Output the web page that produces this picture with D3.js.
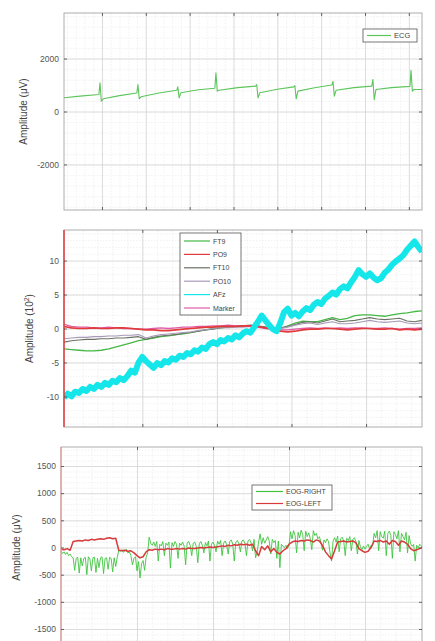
<!DOCTYPE html>
<html>
<head>
<meta charset="utf-8">
<script src="https://cdn.jsdelivr.net/npm/d3@7"></script>
<style>
  body { margin: 0; background: #fff; }
  svg { display: block; }
  text { font-family: "Liberation Sans", Arial, sans-serif; }
</style>
</head>
<body>
<svg id="chart" width="435" height="641"></svg>
<script>
// ---------- Panel 1: ECG (µV) ----------
const ecgTime = [0.134, 0.5, 0.93, 0.955, 0.985, 1.03, 1.4, 1.795, 1.82, 1.85, 1.89, 2.3,
  2.705, 2.73, 2.76, 2.80, 3.2, 3.575, 3.60, 3.63, 3.67, 4.1, 4.505, 4.53, 4.56, 4.60, 5.0,
  5.375, 5.40, 5.43, 5.47, 5.85, 6.245, 6.27, 6.30, 6.34, 6.75, 7.155, 7.18, 7.21, 7.25, 7.6,
  8.025, 8.05, 8.08, 8.12, 8.3];
const ecgValue = [520, 580, 640, 1080, 390, 480, 600, 700, 1020, 480, 555, 700,
  800, 930, 515, 705, 820, 880, 1460, 770, 800, 900, 960, 1020, 515, 705, 840,
  930, 980, 480, 770, 900, 1000, 1140, 580, 800, 900, 960, 1210, 450, 830, 900,
  950, 1560, 770, 830, 830];
const ecgTicksY = [-2000, 0, 2000];
const ecgTicksX = [1, 2, 3, 4, 5, 6, 7, 8];

// ---------- Panel 2: EEG channels (1 s samples, AFz at 0.5 s) ----------
const eegNames = ["FT9", "PO9", "FT10", "PO10", "AFz", "Marker"];
const eegColors = ["#45b845", "#e23a3a", "#6b7264", "#a79ab8", "#14e6ea", "#e35aa8"];
const ft9 = [-3.0, -3.1, -3.2, -3.3, -3.3, -3.2, -3.0, -2.7, -2.4, -2.1, -1.8, -1.6, -1.4, -1.2, -1.1,
  -0.9, -0.8, -0.6, -0.4, -0.2, 0.0, 0.1, 0.2, 0.3, 0.3, 0.4, 0.3, 0.2, 0.0, 0.0, 0.4, 0.8, 1.1, 1.0,
  1.0, 1.3, 1.6, 1.3, 1.5, 1.9, 2.0, 2.0, 1.9, 1.8, 2.0, 2.2, 2.3, 2.5, 2.6];
const po9 = [0.3, 0.1, 0.0, 0.0, 0.1, 0.0, 0.0, 0.1, 0.1, 0.0, -0.1, -0.2, -0.2, -0.3, -0.3, -0.2,
  -0.1, 0.0, 0.1, 0.2, 0.2, 0.3, 0.3, 0.3, 0.4, 0.4, 0.3, 0.1, -0.1, -0.4, -0.5, -0.4, -0.2, -0.1,
  -0.1, 0.0, 0.0, -0.1, -0.2, -0.1, 0.0, 0.0, -0.1, -0.1, 0.0, -0.2, -0.1, -0.2, -0.1];
const ft10 = [-2.0, -1.8, -1.7, -1.6, -1.6, -1.5, -1.5, -1.4, -1.4, -1.3, -1.2, -1.6, -1.3, -1.1, -1.0,
  -0.9, -0.7, -0.6, -0.4, -0.2, -0.1, 0.1, 0.2, 0.3, 0.4, 0.5, 0.4, 0.2, 0.1, 0.1, 0.3, 0.6, 0.9, 1.0,
  0.8, 1.1, 1.4, 1.0, 1.1, 1.2, 1.4, 1.6, 1.4, 1.3, 1.4, 1.5, 1.1, 1.0, 1.2];
const po10 = [-1.5, -1.4, -1.3, -1.3, -1.2, -1.2, -1.1, -1.1, -1.0, -1.0, -0.9, -1.4, -1.1, -0.9, -0.8,
  -0.7, -0.6, -0.5, -0.3, -0.2, 0.0, 0.1, 0.1, 0.2, 0.2, 0.3, 0.2, 0.1, 0.0, 0.0, 0.2, 0.5, 0.7, 0.8,
  0.6, 0.8, 1.0, 0.7, 0.7, 0.8, 1.0, 1.2, 1.0, 0.9, 1.0, 1.1, 0.8, 0.7, 0.8];
const afz = [-10.2, -9.6, -10.0, -9.3, -9.5, -8.9, -9.2, -8.6, -8.9, -8.3, -8.6, -8.0, -8.3, -7.7, -7.9,
  -7.3, -7.6, -7.0, -6.2, -6.5, -5.0, -4.2, -4.8, -5.3, -5.8, -5.1, -5.4, -4.8, -5.0, -4.4, -4.6, -4.0,
  -4.2, -3.6, -3.8, -3.2, -3.4, -2.8, -3.0, -2.3, -2.0, -2.3, -1.7, -1.9, -1.4, -1.6, -1.0, -1.3, -0.7,
  -0.4, -0.6, 0.2, 1.0, 1.9, 1.2, 0.5, -0.1, -0.4, 0.8, 2.4, 2.9, 1.9, 2.3, 1.8, 2.5, 3.0, 2.7, 3.5,
  3.9, 3.6, 4.4, 4.8, 5.3, 5.0, 5.8, 6.2, 5.9, 6.8, 7.6, 8.6, 8.0, 7.6, 8.1, 7.5, 7.1, 7.4, 8.2, 8.7,
  9.4, 9.9, 10.3, 10.8, 11.6, 12.2, 12.8, 12.0, 11.3];
const marker = [0.6, 0.3, 0.2, 0.2, 0.1, 0.1, 0.2, 0.1, 0.0, 0.0, -0.1, -0.1, 0.0, 0.1, 0.0, 0.1, 0.2,
  0.2, 0.3, 0.3, 0.4, 0.4, 0.5, 0.4, 0.4, 0.3, 0.2, 0.0, -0.1, -0.2, -0.2, -0.1, 0.0, 0.1, 0.0, 0.1,
  0.0, 0.1, 0.0, 0.1, 0.1, 0.0, 0.0, 0.1, 0.0, -0.1, 0.0, 0.0, 0.1];
const eegTicksY = [-10, -5, 0, 5, 10];
const eegTicksX = [10, 20, 30, 40];

// ---------- Panel 3: EOG (µV; right channel at 0.2 s, left at 0.4 s) ----------
const eogNames = ["EOG-RIGHT", "EOG-LEFT"];
const eogColors = ["#3fc43f", "#d63a3a"];
const eogRight = [
  -60, -110, -80, -130, -90, -150, -120, -170, -190, -420,
  -200, -180, -470, -190, -340, -200, -180, -500, -170, -210,
  -430, -190, -180, -460, -200, -370, -190, -170, -480, -200,
  -190, -400, -180, -200, -450, -190, -350, -180, -50, -70,
  -40, -90, -60, -30, -100, -80, -150, -320, -200, -170,
  -430, -260, -560, -300, -240, -420, -180, -100, 190, 80,
  40, 100, 20, 110, -250, 60, 30, 110, -150, 80,
  40, 100, -380, 90, 20, 110, 60, -200, 80, 40,
  100, 30, -320, 90, 110, 40, -150, 80, 100, 20,
  -280, 70, 110, 40, -100, 90, 30, 120, -250, 60,
  100, 40, -80, 120, 60, 130, -150, 80, 120, 50,
  -120, 110, 140, 60, -250, 100, 130, 70, -80, 120,
  140, 80, -150, 120, 150, 90, -60, 150, -190, -100,
  100, 250, 60, 180, 80, 140, 200, 120, -120, 150,
  90, 130, -200, 120, -370, 60, 20, 0, 40, -20,
  40, 290, 160, 310, 220, -100, 280, 180, 320, 240,
  -60, 300, 200, 270, 160, -40, 310, 220, 260, 160,
  200, 100, -50, 140, 90, 160, 110, -100, -250, 120,
  180, 100, 210, -80, 160, 190, 120, -150, 170, 130,
  200, -60, 150, 180, 110, -120, 130, 10, -40, 30,
  -30, 20, 60, -20, 40, 30, 260, 180, 310, -60,
  290, 200, 170, 300, -150, 260, 300, 220, -200, 290,
  240, 160, 310, -80, 260, 200, 140, 280, -100, 220,
  70, 20, 60, -250, 40, -10, 60, 30, -20, 50];
const eogLeft = [-30, -40, -20, -50, 110, 120, 130, 120, 140, 130, 150, 140, 150, 160, 150, 170, 180,
  160, 170, -50, -60, -50, -70, -60, -100, -150, -190, -170, -80, -40, -50, -30, -40, -30, -40, -20,
  -30, -30, -20, -30, -20, -30, -10, -20, -20, -10, 0, -10, 0, 10, 0, 10, 20, 30, 20, 40, 30, 50, 40,
  60, 50, 60, 40, 60, -60, -150, 20, -40, 30, -80, -20, -90, -120, -60, -20, 60, 100, 120, 110, 130,
  120, 140, 130, 100, 140, 120, 40, -80, -150, -210, -60, 100, 110, 120, 100, 110, 120, 90, -20, -60,
  -90, -70, 0, 120, 110, 130, 100, 120, 60, 130, 110, 40, 120, 100, 60, -20, -60, -40, -20, 0];
const eogTicksY = [-1500, -1000, -500, 0, 500, 1000, 1500];
const eogTicksX = [10, 20, 30, 40];

// ---------- drawing ----------
const svg = d3.select("#chart");
let clipId = 0;

function panel(cfg) {
  const g = svg.append("g");
  const x = d3.scaleLinear().domain(cfg.xDomain).range([cfg.left, cfg.right]);
  const y = d3.scaleLinear().domain(cfg.yDomain).range([cfg.bottom, cfg.top]);
  const w = cfg.right - cfg.left, h = cfg.bottom - cfg.top;

  const grid = (axis, minor) => s => {
    s.call(axis);
    s.select(".domain").remove();
    s.selectAll("line").attr("stroke", minor ? "#ebebeb" : "#d6d6d6")
      .attr("stroke-width", minor ? 0.7 : 0.8)
      .attr("stroke-dasharray", minor ? "1.5,1.5" : null);
  };
  // minor grid
  g.append("g").attr("transform", `translate(0,${cfg.bottom})`)
    .call(grid(d3.axisBottom(x).tickValues(cfg.xMinor).tickSize(-h).tickFormat(""), true));
  g.append("g").attr("transform", `translate(${cfg.left},0)`)
    .call(grid(d3.axisLeft(y).tickValues(cfg.yMinor).tickSize(-w).tickFormat(""), true));
  // major grid
  g.append("g").attr("transform", `translate(0,${cfg.bottom})`)
    .call(grid(d3.axisBottom(x).tickValues(cfg.xTicks).tickSize(-h).tickFormat(""), false));
  g.append("g").attr("transform", `translate(${cfg.left},0)`)
    .call(grid(d3.axisLeft(y).tickValues(cfg.yTicks).tickSize(-w).tickFormat(""), false));

  // data
  const id = "clip" + (clipId++);
  g.append("clipPath").attr("id", id).append("rect")
    .attr("x", cfg.left).attr("y", cfg.top).attr("width", w).attr("height", h);
  const plot = g.append("g").attr("clip-path", `url(#${id})`);
  cfg.series.forEach(s => {
    const line = d3.line().x((d, i) => x(s.t[i])).y(d => y(d));
    plot.append("path").datum(s.v)
      .attr("fill", "none").attr("stroke", s.color)
      .attr("stroke-width", s.width).attr("stroke-linejoin", "round")
      .attr("d", line);
  });

  // box
  g.append("rect").attr("x", cfg.left).attr("y", cfg.top).attr("width", w).attr("height", h)
    .attr("fill", "none").attr("stroke", "#9a9a9a").attr("stroke-width", 0.8);
  if (cfg.leftLine) {
    g.append("line").attr("x1", cfg.left).attr("x2", cfg.left)
      .attr("y1", cfg.top).attr("y2", cfg.bottom)
      .attr("stroke", cfg.leftLine.color).attr("stroke-width", cfg.leftLine.width);
  }

  // tick marks and labels
  const tickStyle = s => {
    s.select(".domain").remove();
    s.selectAll("line").attr("stroke", "#444").attr("stroke-width", 0.8);
  };
  g.append("g").attr("transform", `translate(0,${cfg.bottom})`)
    .call(d3.axisBottom(x).tickValues(cfg.xTicks).tickSizeInner(-3).tickSizeOuter(0).tickFormat(""))
    .call(tickStyle);
  g.append("g").attr("transform", `translate(0,${cfg.top})`)
    .call(d3.axisTop(x).tickValues(cfg.xTicks).tickSizeInner(-3).tickSizeOuter(0).tickFormat(""))
    .call(tickStyle);
  g.append("g").attr("transform", `translate(${cfg.right},0)`)
    .call(d3.axisRight(y).tickValues(cfg.yTicks).tickSizeInner(-3).tickSizeOuter(0).tickFormat(""))
    .call(tickStyle);
  const yAxis = g.append("g").attr("transform", `translate(${cfg.left},0)`)
    .call(d3.axisLeft(y).tickValues(cfg.yTicks).tickSizeInner(-3).tickSizeOuter(0).tickPadding(5)
      .tickFormat(d => String(d)))
    .call(tickStyle);
  yAxis.selectAll("text").attr("font-size", 8.5).attr("fill", "#555")
    .attr("font-family", "'Liberation Sans', Arial, sans-serif");

  // axis title
  const title = g.append("text")
    .attr("transform", `translate(${cfg.titleX},${(cfg.top + cfg.bottom) / 2}) rotate(-90)`)
    .attr("text-anchor", "middle").attr("font-size", 10).attr("fill", "#444");
  title.append("tspan").text(cfg.title);
  if (cfg.titleSup) {
    title.append("tspan").attr("font-size", 7).attr("dy", -4).text(cfg.titleSup);
    title.append("tspan").attr("dy", 4).text(cfg.titleEnd);
  }

  // legend
  const L = cfg.legend;
  const lg = g.append("g");
  lg.append("rect").attr("x", L.x).attr("y", L.y).attr("width", L.w).attr("height", L.h)
    .attr("fill", "#fff").attr("stroke", "#555").attr("stroke-width", 0.8);
  L.items.forEach((it, i) => {
    const yy = L.y + L.pad + i * L.step;
    lg.append("line").attr("x1", L.x + 4).attr("x2", L.x + L.lineLen).attr("y1", yy).attr("y2", yy)
      .attr("stroke", it.color).attr("stroke-width", 1.2);
    lg.append("text").attr("x", L.x + L.lineLen + 3).attr("y", yy + 2.5)
      .attr("font-size", L.font).attr("fill", "#444").text(it.name);
  });
}

// Panel 1
panel({
  left: 64, right: 422, top: 13, bottom: 210,
  xDomain: [0.134, 8.3], xTicks: ecgTicksX, xMinor: d3.range(0.2, 8.3, 0.2),
  yDomain: [-3720, 3720], yTicks: ecgTicksY, yMinor: d3.range(-3600, 3601, 400),
  series: [{ t: ecgTime, v: ecgValue, color: "#5cc65c", width: 1.1 }],
  title: "Amplitude (\u03bcV)", titleX: 27,
  legend: { x: 363, y: 29, w: 54, h: 13, pad: 6.5, step: 13, lineLen: 28, font: 7.5,
    items: [{ name: "ECG", color: "#5cc65c" }] }
});

// Panel 2
const eegT = d3.range(49).map(j => -0.5 + j);
const afzT = d3.range(97).map(i => -0.5 + 0.5 * i);
panel({
  left: 64, right: 422, top: 230, bottom: 427,
  xDomain: [-0.5, 47.5], xTicks: eegTicksX, xMinor: d3.range(0, 48, 2),
  yDomain: [-14.5, 14.5], yTicks: eegTicksY, yMinor: d3.range(-14, 15, 1),
  series: [
    { t: eegT, v: ft9, color: eegColors[0], width: 1.3 },
    { t: eegT, v: ft10, color: eegColors[2], width: 1.1 },
    { t: eegT, v: po10, color: eegColors[3], width: 1.1 },
    { t: eegT, v: marker, color: eegColors[5], width: 1.3 },
    { t: eegT, v: po9, color: eegColors[1], width: 1.7 },
    { t: afzT, v: afz, color: eegColors[4], width: 6 }
  ],
  leftLine: { color: "#e53b3b", width: 1.5 },
  title: "Amplitude (10", titleSup: "2", titleEnd: ")", titleX: 33,
  legend: { x: 180, y: 233, w: 61, h: 82, pad: 8, step: 13.4, lineLen: 30, font: 7,
    items: eegNames.map((n, i) => ({ name: n, color: eegColors[i] })) }
});

// Panel 3
const eogRightT = d3.range(eogRight.length).map(m => 0.2 * m);
const eogLeftT = d3.range(eogLeft.length).map(k => 0.4 * k);
panel({
  left: 61, right: 422, top: 447, bottom: 648,
  xDomain: [0, 47.5], xTicks: eogTicksX, xMinor: d3.range(2, 48, 2),
  yDomain: [-1850, 1850], yTicks: eogTicksY, yMinor: d3.range(-1800, 1801, 100),
  series: [
    { t: eogRightT, v: eogRight, color: eogColors[0], width: 0.9 },
    { t: eogLeftT, v: eogLeft, color: eogColors[1], width: 1.5 }
  ],
  leftLine: { color: "#e59a9a", width: 1.2 },
  title: "Amplitude (\u03bcV)", titleX: 20,
  legend: { x: 252, y: 485, w: 80, h: 25, pad: 6.5, step: 12, lineLen: 31, font: 7,
    items: eogNames.map((n, i) => ({ name: n, color: eogColors[i] })) }
});
</script>
</body>
</html>
